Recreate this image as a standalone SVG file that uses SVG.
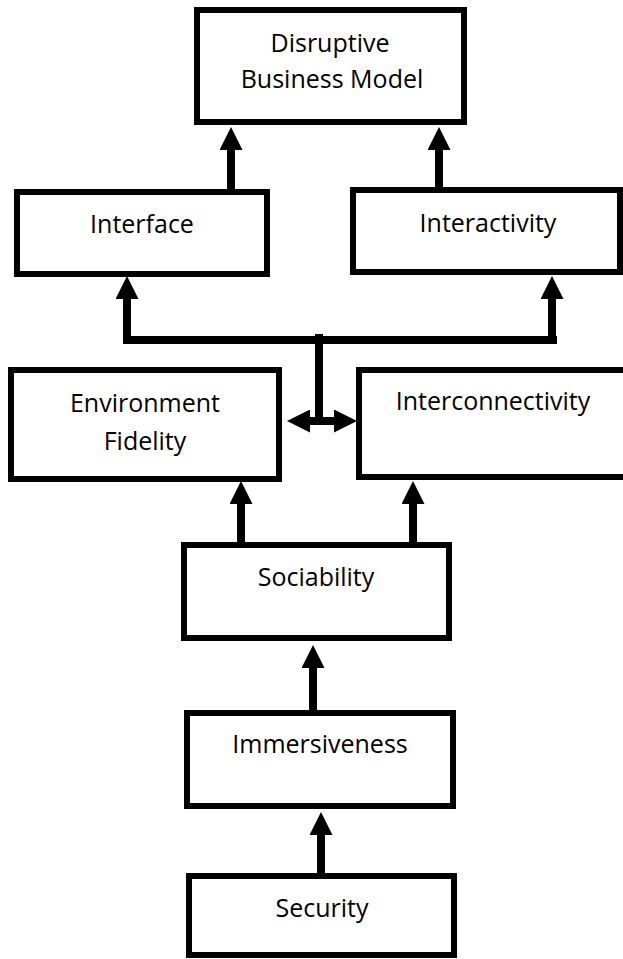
<svg xmlns="http://www.w3.org/2000/svg" width="623" height="959" viewBox="0 0 623 959">
<style>
.box{fill:#fff;stroke:#000;stroke-width:6}
.lbl{font-family:"Open Sans","Liberation Sans",sans-serif;font-size:25px;fill:#000;text-anchor:middle}
.cn{stroke:#000;stroke-width:8;fill:none}
</style>
<defs>
<marker id="ah" markerUnits="userSpaceOnUse" markerWidth="23" markerHeight="23" viewBox="0 0 23 23" refX="0" refY="11.5" orient="auto">
<path d="M0,0 L23,11.5 L0,23 z" fill="#000"/>
</marker>
</defs>
<rect width="623" height="959" fill="#fff"/>
<g id="disruptive"><rect class="box" x="197" y="10" width="267" height="112"/><text class="lbl" x="330" y="52">Disruptive</text><text class="lbl" x="332" y="88">Business Model</text></g>
<g id="interface"><rect class="box" x="17" y="192" width="250" height="82"/><text class="lbl" x="142" y="233">Interface</text></g>
<g id="interactivity"><rect class="box" x="353" y="190" width="267" height="82"/><text class="lbl" x="488" y="232">Interactivity</text></g>
<g id="environment"><rect class="box" x="11" y="370" width="268" height="109"/><text class="lbl" x="145" y="412">Environment</text><text class="lbl" x="145" y="450">Fidelity</text></g>
<g id="interconnectivity"><rect class="box" x="359" y="370" width="300" height="107"/><text class="lbl" x="493" y="410">Interconnectivity</text></g>
<g id="sociability"><rect class="box" x="184" y="545" width="265" height="93"/><text class="lbl" x="316" y="586">Sociability</text></g>
<g id="immersiveness"><rect class="box" x="187" y="713" width="266" height="93"/><text class="lbl" x="320" y="753">Immersiveness</text></g>
<g id="security"><rect class="box" x="189" y="876" width="265" height="79"/><text class="lbl" x="322" y="917">Security</text></g>
<g id="connectors">
<line class="cn" x1="231" y1="189" x2="231" y2="150" marker-end="url(#ah)"/>
<line class="cn" x1="439" y1="187" x2="439" y2="150" marker-end="url(#ah)"/>
<line class="cn" x1="123" y1="340" x2="557" y2="340"/>
<line class="cn" x1="127" y1="344" x2="127" y2="299" marker-end="url(#ah)"/>
<line class="cn" x1="552" y1="344" x2="552" y2="299" marker-end="url(#ah)"/>
<line class="cn" x1="319" y1="334" x2="319" y2="425"/>
<line class="cn" x1="319" y1="421" x2="310" y2="421" marker-end="url(#ah)"/>
<line class="cn" x1="319" y1="421" x2="334" y2="421" marker-end="url(#ah)"/>
<line class="cn" x1="241" y1="542" x2="241" y2="504" marker-end="url(#ah)"/>
<line class="cn" x1="413" y1="542" x2="413" y2="504" marker-end="url(#ah)"/>
<line class="cn" x1="313" y1="710" x2="313" y2="668" marker-end="url(#ah)"/>
<line class="cn" x1="321" y1="873" x2="321" y2="835" marker-end="url(#ah)"/>
</g>
</svg>
